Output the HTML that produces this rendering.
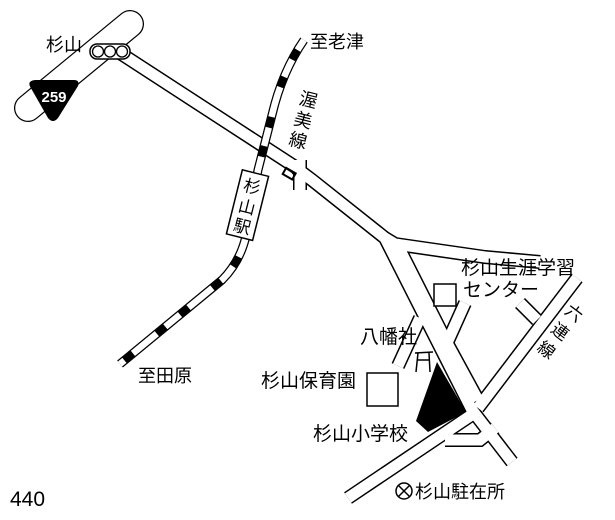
<!DOCTYPE html>
<html><head><meta charset="utf-8"><style>
html,body{margin:0;padding:0;background:#fff;}
svg{display:block}
text{font-family:"Liberation Sans","Noto Sans CJK JP",sans-serif;fill:#000}
</style></head><body>
<svg width="615" height="520" viewBox="0 0 615 520" xmlns="http://www.w3.org/2000/svg">
<line x1="28" y1="108" x2="130" y2="24" stroke="#000" stroke-width="28" stroke-linecap="round"/>
<line x1="28" y1="108" x2="130" y2="24" stroke="#fff" stroke-width="25.5" stroke-linecap="round"/>
<g fill="none" stroke="#000" stroke-width="14" stroke-linejoin="miter" stroke-linecap="butt">
<polyline points="120,53 300,170"/>
<polyline points="296,168 312,180 385,238 472,410 512,462"/>
<polyline points="300,160 300,190"/>
<polyline points="385,238 395,244 485,257 540,262"/>
<polyline points="398,246 447,343 478,400"/>
<polyline points="465,303 447,343"/>
<polyline points="478,408 577,278"/>
<polyline points="520,303 537,320"/>
<polyline points="476,412 348,498"/>
<polyline points="398,366 420,318"/>
<polyline points="445,440 480,440 495,428"/>
</g>
<g fill="none" stroke="#fff" stroke-width="11" stroke-linejoin="miter" stroke-linecap="butt">
<polyline points="120,53 300,170"/>
<polyline points="296,168 312,180 385,238 472,410 512,462"/>
<polyline points="300,160 300,190"/>
<polyline points="385,238 395,244 485,257 540,262"/>
<polyline points="398,246 447,343 478,400"/>
<polyline points="465,303 447,343"/>
<polyline points="478,408 577,278"/>
<polyline points="520,303 537,320"/>
<polyline points="476,412 348,498"/>
<polyline points="398,366 420,318"/>
<polyline points="445,440 480,440 495,428"/>
</g>
<rect x="284" y="170" width="11" height="7" fill="none" stroke="#000" stroke-width="2" transform="rotate(30 289 173)"/>
<rect x="90" y="44" width="40" height="15" rx="7" fill="#fff" stroke="#000" stroke-width="1.5"/>
<circle cx="98" cy="51.5" r="5.5" fill="#fff" stroke="#000" stroke-width="1.3"/>
<circle cx="110" cy="51.5" r="5.5" fill="#fff" stroke="#000" stroke-width="1.3"/>
<circle cx="122" cy="51.5" r="5.5" fill="#fff" stroke="#000" stroke-width="1.3"/>
<path d="M30,82 Q32,80 36,80 L74,80 Q80,80 78,86 L58,118 Q53,124 48,118 L32,90 Q28,84 30,82Z" fill="#000"/>
<text x="54" y="102" font-size="15" font-weight="bold" text-anchor="middle" style="fill:#fff">259</text>
<g fill="none">
<path d="M304,40 Q282,72 272,115 L258,170 L246,236 Q240,262 222,280 L120,364" stroke="#000" stroke-width="9"/>
<path d="M304,40 Q282,72 272,115 L258,170 L246,236 Q240,262 222,280 L120,364" stroke="#fff" stroke-width="6.5"/>
<path d="M304,40 Q282,72 272,115 L258,170 L246,236 Q240,262 222,280 L120,364" stroke="#000" stroke-width="7" stroke-dasharray="0 12 11 19 11 19"/>
</g>
<g transform="rotate(14 247 205)">
<rect x="234" y="172" width="27" height="66" fill="#fff" stroke="#000" stroke-width="1.5"/>
<text x="247.5" y="192" font-size="17" text-anchor="middle">杉</text>
<text x="247.5" y="213" font-size="17" text-anchor="middle">山</text>
<text x="247.5" y="233" font-size="17" text-anchor="middle">駅</text>
</g>
<rect x="434" y="284" width="22" height="22" fill="#fff" stroke="#000" stroke-width="1.5"/>
<rect x="367" y="373" width="31" height="33" fill="#fff" stroke="#000" stroke-width="1.5"/>
<polygon points="437,362 466,412 428,432 416,421" fill="#000"/>
<path d="M415,353 L433,352 M418,353 L416,372 M429,353 L430,372 M417,360 L430,360" stroke="#000" stroke-width="1.5" fill="none"/>
<circle cx="404" cy="491" r="8" fill="#fff" stroke="#000" stroke-width="1.5"/>
<path d="M398,485 L410,497 M410,485 L398,497" stroke="#000" stroke-width="1.5"/>
<text x="46" y="51" font-size="18">杉山</text>
<text x="310" y="48" font-size="18">至老津</text>
<g font-size="18" transform="rotate(14 297 120)">
<text x="294" y="104">渥</text><text x="294" y="125">美</text><text x="294" y="146">線</text>
</g>
<text x="138" y="382" font-size="18">至田原</text>
<text x="461" y="274" font-size="19">杉山生涯学習</text>
<text x="463" y="296" font-size="19">センター</text>
<text x="360" y="343" font-size="19">八幡社</text>
<text x="261" y="387" font-size="19">杉山保育園</text>
<text x="313" y="440" font-size="19">杉山小学校</text>
<text x="415" y="498" font-size="18">杉山駐在所</text>
<g font-size="17" transform="rotate(37 555 335)">
<text x="557" y="312" text-anchor="middle">六</text>
<text x="557" y="335" text-anchor="middle">連</text>
<text x="557" y="358" text-anchor="middle">線</text>
</g>
<text x="10" y="506" font-size="21">440</text>
</svg>
</body></html>
